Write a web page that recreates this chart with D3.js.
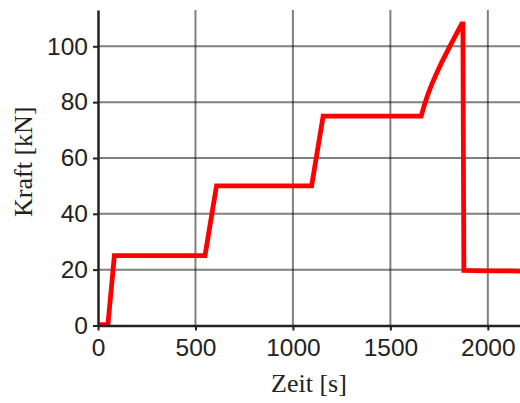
<!DOCTYPE html>
<html><head><meta charset="utf-8">
<script src="https://cdn.jsdelivr.net/npm/d3@7"></script>
<style>body{margin:0;background:#fff}svg{display:block}</style>
</head><body>
<svg id="c" width="520" height="403"></svg>
<script>
const timeS = [0, 51, 84, 549, 608, 1096, 1155, 1658, 1672, 1690, 1710, 1735, 1765, 1815, 1866, 1872, 1877, 2000, 2165];
const forceKN = [0.3, 0.3, 25, 25, 50, 50, 75, 75, 78.4, 82.3, 86, 90, 94.5, 101.3, 108, 108, 19.7, 19.6, 19.5];
const xTicks = [0, 500, 1000, 1500, 2000];
const yTicks = [0, 20, 40, 60, 80, 100];
const xLabel = "Zeit [s]";
const yLabel = "Kraft [kN]";

const svg = d3.select("#c");
const L = 98, R = 520, T = 10, B = 325.5;
const x = d3.scaleLinear().domain([0, 2165]).range([L, R]);
const y = d3.scaleLinear().domain([0, 113]).range([B, T]);

// grid
svg.append("g").selectAll("line").data(xTicks.filter(d => d > 0)).join("line")
  .attr("x1", d => x(d)).attr("x2", d => x(d)).attr("y1", B).attr("y2", T)
  .attr("stroke", "#000").attr("stroke-opacity", 0.5).attr("stroke-width", 2);
svg.append("g").selectAll("line").data(yTicks.filter(d => d > 0)).join("line")
  .attr("y1", d => y(d)).attr("y2", d => y(d)).attr("x1", L).attr("x2", R)
  .attr("stroke", "#000").attr("stroke-opacity", 0.5).attr("stroke-width", 2);

// data line
svg.append("path")
  .datum(timeS.map((t, i) => [t, forceKN[i]]))
  .attr("d", d3.line().x(d => x(d[0])).y(d => y(d[1])))
  .attr("fill", "none").attr("stroke", "#ff0000").attr("stroke-width", 4.8)
  .attr("stroke-linejoin", "miter");

// axes
const fontTick = "'Liberation Sans', Arial, sans-serif";
const xa = svg.append("g").attr("transform", `translate(0,${B})`)
  .call(d3.axisBottom(x).tickValues(xTicks).tickFormat(d3.format("d")).tickSize(5).tickSizeOuter(0).tickPadding(8));
const ya = svg.append("g").attr("transform", `translate(${L},0)`)
  .call(d3.axisLeft(y).tickValues(yTicks).tickFormat(d3.format("d")).tickSize(5).tickSizeOuter(0).tickPadding(5));
[xa, ya].forEach(a => {
  a.select(".domain").attr("stroke", "#222").attr("stroke-width", 2.5);
  a.selectAll(".tick line").attr("stroke", "#222").attr("stroke-width", 2);
  a.selectAll("text").attr("fill", "#222").style("font-family", fontTick).style("font-size", "24.5px");
});

// titles
svg.append("text").attr("x", (L + R) / 2).attr("y", 392).attr("text-anchor", "middle")
  .style("font-family", "'Liberation Serif', 'Times New Roman', serif").style("font-size", "26px")
  .attr("fill", "#222").text(xLabel);
svg.append("text").attr("transform", `translate(32,${(T + B) / 2 - 6}) rotate(-90)`).attr("text-anchor", "middle")
  .style("font-family", "'Liberation Serif', 'Times New Roman', serif").style("font-size", "26px")
  .attr("fill", "#222").text(yLabel);
</script>
</body></html>
